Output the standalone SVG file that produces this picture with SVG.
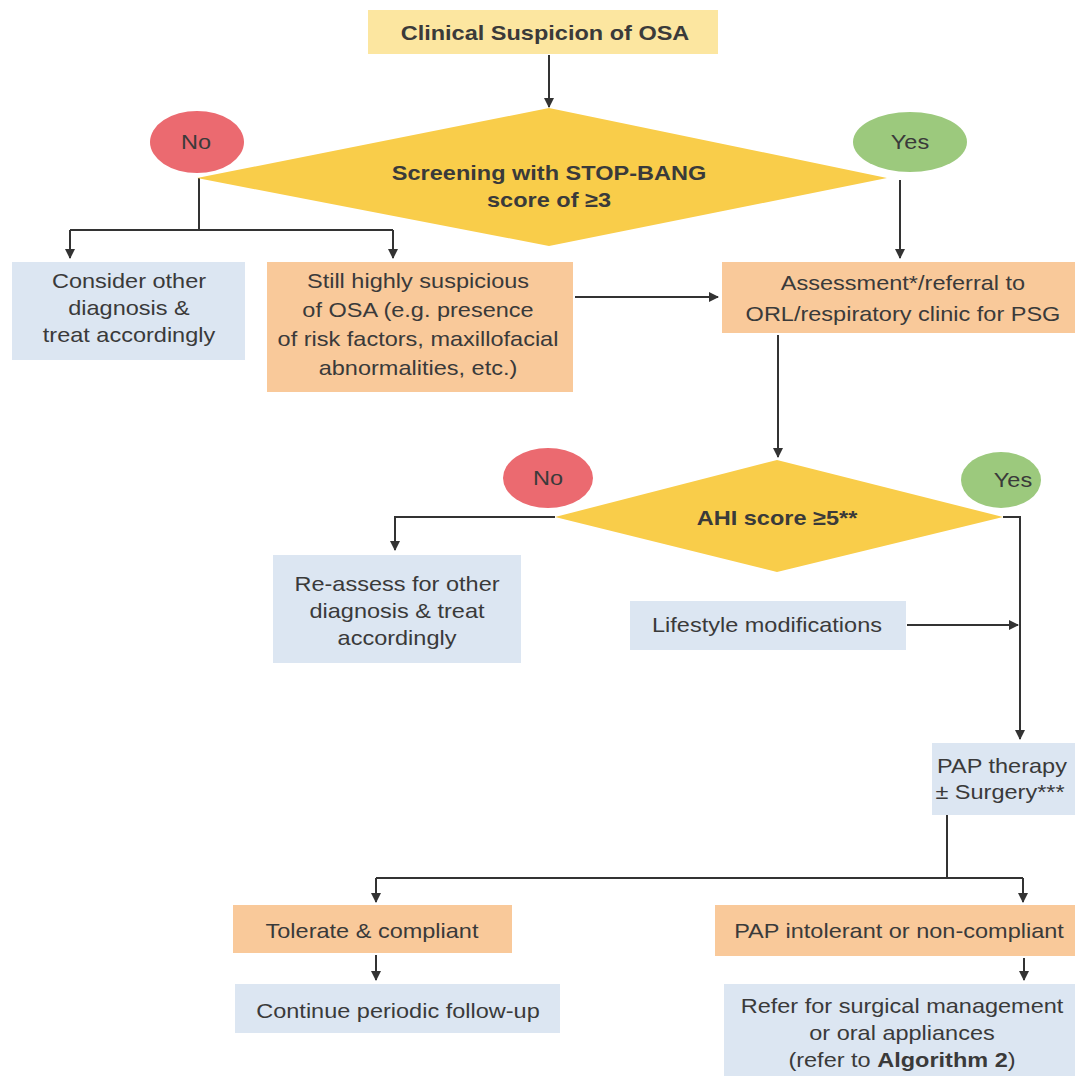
<svg xmlns="http://www.w3.org/2000/svg" width="1078" height="1076" viewBox="0 0 1078 1076">
<defs>
<style>
.t{font-family:"Liberation Sans",Arial,sans-serif;font-size:21px;fill:#3a3a3a;text-anchor:middle}
.b{font-weight:bold}
.ln{stroke:#333;stroke-width:2;fill:none}
.yel{fill:#FCE6A0}
.dia{fill:#F9CD4A}
.org{fill:#F9C99A}
.blu{fill:#DCE6F2}
.red{fill:#EB6A70}
.grn{fill:#9CC97D}
</style>
<marker id="ah" viewBox="0 0 10 10" refX="9" refY="5" markerWidth="5" markerHeight="5" orient="auto"><path d="M0,0 L10,5 L0,10 z" fill="#333"/></marker>
</defs>
<rect width="1078" height="1076" fill="#fff"/>
<g id="connectors">
<path class="ln" d="M549,55 V107" marker-end="url(#ah)"/>
<path class="ln" d="M199,178 V230"/>
<path class="ln" d="M70,230 H393"/>
<path class="ln" d="M70,230 V258" marker-end="url(#ah)"/>
<path class="ln" d="M393,230 V258" marker-end="url(#ah)"/>
<path class="ln" d="M900,180 V258" marker-end="url(#ah)"/>
<path class="ln" d="M575,297 H718" marker-end="url(#ah)"/>
<path class="ln" d="M778,335 V457" marker-end="url(#ah)"/>
<path class="ln" d="M555,517 H395 V550" marker-end="url(#ah)"/>
<path class="ln" d="M1003,517 H1020 V739" marker-end="url(#ah)"/>
<path class="ln" d="M907,625 H1018" marker-end="url(#ah)"/>
<path class="ln" d="M947,815 V878"/>
<path class="ln" d="M376,878 H1023"/>
<path class="ln" d="M376,878 V902" marker-end="url(#ah)"/>
<path class="ln" d="M1023,878 V902" marker-end="url(#ah)"/>
<path class="ln" d="M376,955 V980" marker-end="url(#ah)"/>
<path class="ln" d="M1024,958 V980" marker-end="url(#ah)"/>
</g>
<g id="n-clinical"><rect class="yel" x="368" y="10" width="350" height="44"/><text class="t b" transform="matrix(1.12 0 0 1 545 40)">Clinical Suspicion of OSA</text></g>
<g id="n-screening"><polygon class="dia" points="197,178 549,108 887,178 549,246"/><text class="t b" transform="matrix(1.12 0 0 1 549 180)">Screening with STOP-BANG</text><text class="t b" transform="matrix(1.12 0 0 1 549 207)">score of ≥3</text></g>
<g id="n-no1"><ellipse class="red" cx="197" cy="142" rx="47" ry="31"/><text class="t" transform="matrix(1.12 0 0 1 196 149)">No</text></g>
<g id="n-yes1"><ellipse class="grn" cx="910" cy="142" rx="57" ry="30"/><text class="t" transform="matrix(1.12 0 0 1 910 149)">Yes</text></g>
<g id="n-consider"><rect class="blu" x="12" y="262" width="233" height="98"/><text class="t" transform="matrix(1.12 0 0 1 129 288)">Consider other</text><text class="t" transform="matrix(1.12 0 0 1 129 315)">diagnosis &amp;</text><text class="t" transform="matrix(1.12 0 0 1 129 342)">treat accordingly</text></g>
<g id="n-still"><rect class="org" x="267" y="262" width="306" height="130"/><text class="t" transform="matrix(1.12 0 0 1 418 288)">Still highly suspicious</text><text class="t" transform="matrix(1.12 0 0 1 418 317)">of OSA (e.g. presence</text><text class="t" transform="matrix(1.12 0 0 1 418 346)">of risk factors, maxillofacial</text><text class="t" transform="matrix(1.12 0 0 1 418 375)">abnormalities, etc.)</text></g>
<g id="n-assess"><rect class="org" x="722" y="262" width="353" height="71"/><text class="t" transform="matrix(1.12 0 0 1 903 290)">Assessment*/referral to</text><text class="t" transform="matrix(1.12 0 0 1 903 321)">ORL/respiratory clinic for PSG</text></g>
<g id="n-ahi"><polygon class="dia" points="555,517 777,460 1003,517 777,572"/><text class="t b" transform="matrix(1.12 0 0 1 777 525)">AHI score ≥5**</text></g>
<g id="n-no2"><ellipse class="red" cx="548" cy="478" rx="45" ry="30"/><text class="t" transform="matrix(1.12 0 0 1 548 485)">No</text></g>
<g id="n-yes2"><ellipse class="grn" cx="1001" cy="480" rx="40" ry="28"/><text class="t" transform="matrix(1.12 0 0 1 1013 487)">Yes</text></g>
<g id="n-reassess"><rect class="blu" x="273" y="555" width="248" height="108"/><text class="t" transform="matrix(1.12 0 0 1 397 591)">Re-assess for other</text><text class="t" transform="matrix(1.12 0 0 1 397 618)">diagnosis &amp; treat</text><text class="t" transform="matrix(1.12 0 0 1 397 645)">accordingly</text></g>
<g id="n-lifestyle"><rect class="blu" x="630" y="601" width="276" height="49"/><text class="t" transform="matrix(1.12 0 0 1 767 632)">Lifestyle modifications</text></g>
<g id="n-pap"><rect class="blu" x="932" y="743" width="143" height="72"/><text class="t" transform="matrix(1.12 0 0 1 1002 773)">PAP therapy</text><text class="t" transform="matrix(1.12 0 0 1 1000 799)">± Surgery***</text></g>
<g id="n-tolerate"><rect class="org" x="233" y="905" width="279" height="48"/><text class="t" transform="matrix(1.12 0 0 1 372 938)">Tolerate &amp; compliant</text></g>
<g id="n-intolerant"><rect class="org" x="715" y="905" width="360" height="51"/><text class="t" transform="matrix(1.12 0 0 1 899 938)">PAP intolerant or non-compliant</text></g>
<g id="n-continue"><rect class="blu" x="235" y="984" width="325" height="49"/><text class="t" transform="matrix(1.12 0 0 1 398 1018)">Continue periodic follow-up</text></g>
<g id="n-refer"><rect class="blu" x="724" y="984" width="351" height="92"/><text class="t" transform="matrix(1.12 0 0 1 902 1013)">Refer for surgical management</text><text class="t" transform="matrix(1.12 0 0 1 902 1040)">or oral appliances</text><text class="t" transform="matrix(1.12 0 0 1 902 1067)">(refer to <tspan class="b">Algorithm 2</tspan>)</text></g>
</svg>
